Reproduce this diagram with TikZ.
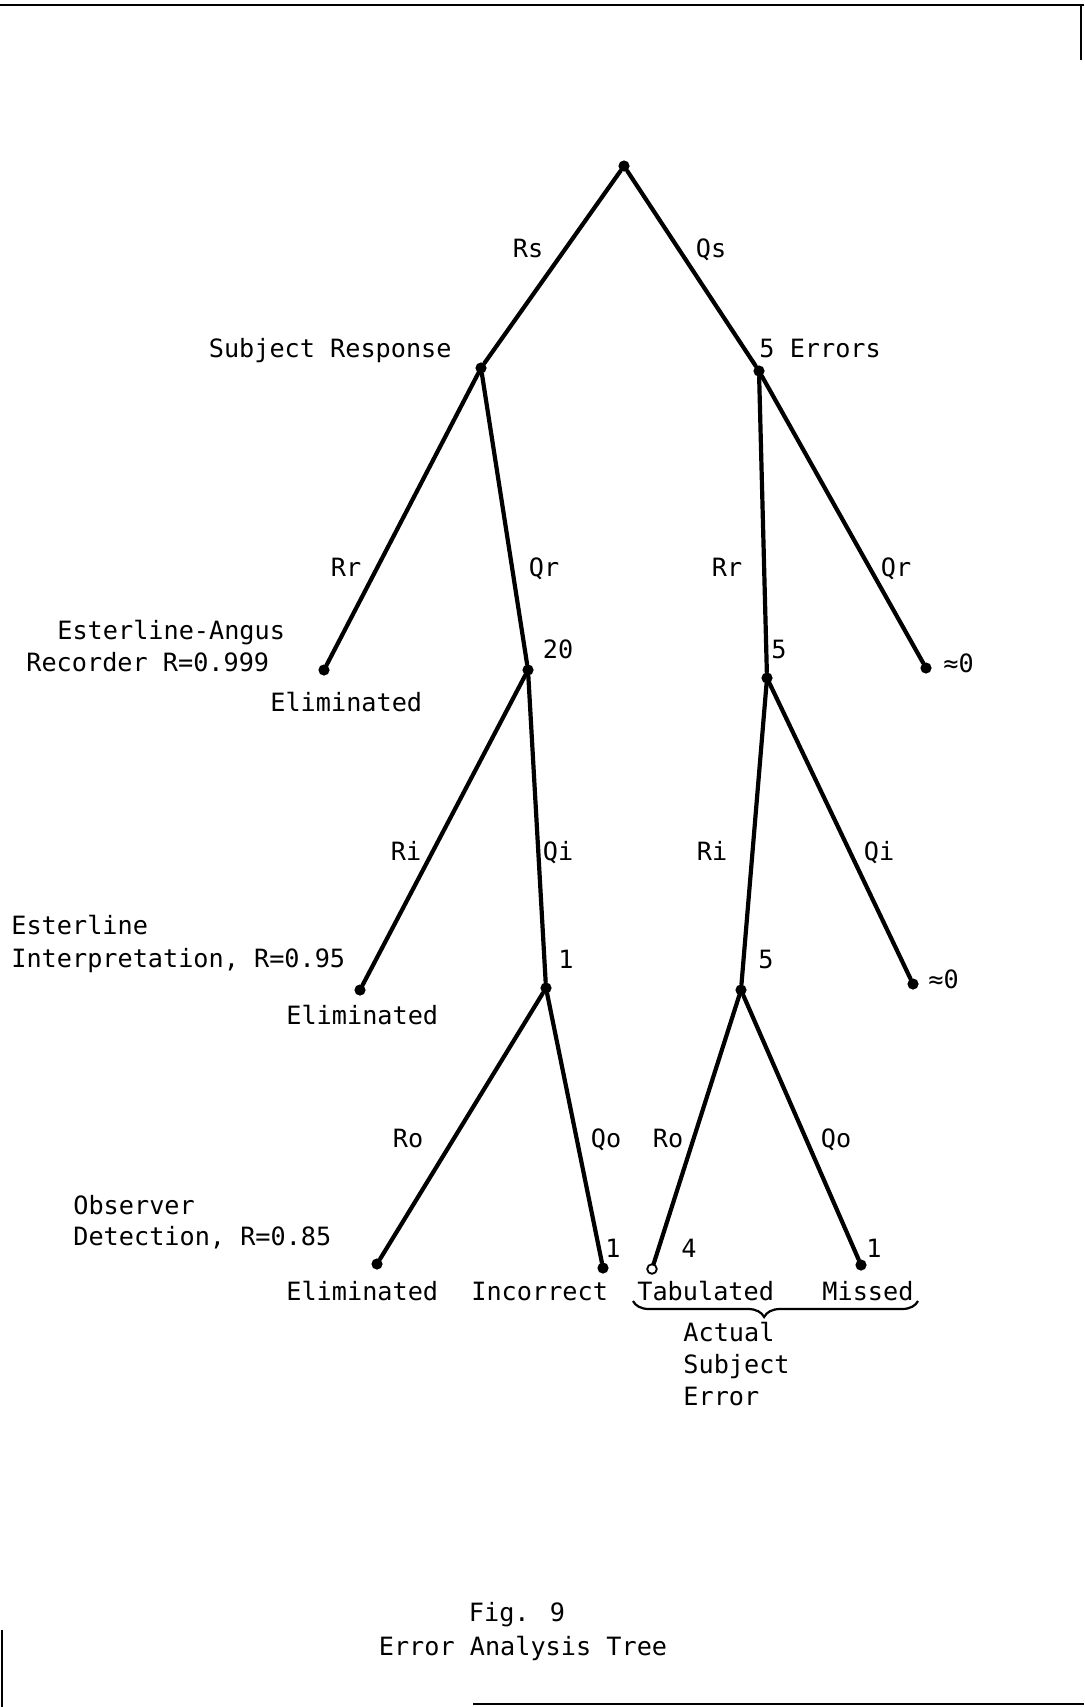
\documentclass[tikz,border=0pt]{standalone}
\usepackage{fontspec}
\setmainfont{DejaVu Sans Mono}
\usetikzlibrary{positioning,decorations.pathreplacing}

\begin{document}
\begin{tikzpicture}[x=0.5pt, y=-0.5pt,
  dot/.style={circle, fill=black, inner sep=0pt, minimum size=5.6pt},
  hollow/.style={circle, draw=black, fill=white, line width=0.9pt, inner sep=0pt, minimum size=4.8pt},
  branch/.style={line width=2.1pt, line cap=round},
  lbl/.style={anchor=base, inner sep=0pt, font=\fontsize{12.6}{16}\selectfont},
  txt/.style={anchor=base west, inner sep=0pt, font=\fontsize{12.6}{16}\selectfont},
  frame/.style={line width=1.4pt}
]
  \useasboundingbox (0,0) rectangle (1084,1707);

  \draw[frame] (0,5) -- (1084,5);
  \draw[frame] (1081,5) -- (1081,60);
  \draw[frame] (473,1704) -- (1084,1704);
  \draw[line width=0.6pt] (2,1630) -- (2,1707);

  \node[dot] (root) at (624,166) {};
  \node[dot] (subj) at (481,368) {};
  \node[dot] (err) at (759,371) {};
  \node[dot] (elimA) at (324,670) {};
  \node[dot] (n20) at (528,670) {};
  \node[dot] (n5a) at (767,678) {};
  \node[dot] (zeroA) at (926,668) {};
  \node[dot] (elimB) at (360,990) {};
  \node[dot] (n1) at (546,988) {};
  \node[dot] (n5b) at (741,990) {};
  \node[dot] (zeroB) at (913,984) {};
  \node[dot] (elimC) at (377,1264) {};
  \node[dot] (incor) at (603,1268) {};
  \node[hollow] (tab) at (652,1269) {};
  \node[dot] (miss) at (861,1265) {};

  \draw[branch] (root) -- (subj);
  \draw[branch] (root) -- (err);
  \draw[branch] (subj) -- (elimA);
  \draw[branch] (subj) -- (n20);
  \draw[branch] (err) -- (n5a);
  \draw[branch] (err) -- (zeroA);
  \draw[branch] (n20) -- (elimB);
  \draw[branch] (n20) -- (n1);
  \draw[branch] (n5a) -- (n5b);
  \draw[branch] (n5a) -- (zeroB);
  \draw[branch] (n1) -- (elimC);
  \draw[branch] (n1) -- (incor);
  \draw[branch] (n5b) -- (tab);
  \draw[branch] (n5b) -- (miss);

  \node[lbl] (rs) at (528,257) {Rs};
  \node[lbl] (qs) at (711,257) {Qs};
  \node[txt, anchor=base east] (subjtxt) at (452,357) {Subject Response};
  \node[txt] (errtxt) at (759,357) {5 Errors};

  \node[lbl] (rrA) at (346,576) {Rr};
  \node[lbl] (qrA) at (544,576) {Qr};
  \node[lbl] (rrB) at (727,576) {Rr};
  \node[lbl] (qrB) at (896,576) {Qr};
  \node[txt] (recA) at (57,639) {Esterline-Angus};
  \node[txt] (recB) at (26,671) {Recorder R=0.999};
  \node[txt] (elimAtxt) at (270,711) {Eliminated};
  \node[lbl] (c20) at (558,658) {20};
  \node[lbl] (c5a) at (779,658) {5};
  \node[txt] (zeroAtxt) at (943,672) {≈0};

  \node[lbl] (riA) at (406,860) {Ri};
  \node[lbl] (qiA) at (558,860) {Qi};
  \node[lbl] (riB) at (712,860) {Ri};
  \node[lbl] (qiB) at (879,860) {Qi};
  \node[txt] (intA) at (11,934) {Esterline};
  \node[txt] (intB) at (11,967) {Interpretation, R=0.95};
  \node[txt] (elimBtxt) at (286,1024) {Eliminated};
  \node[lbl] (c1) at (566,968) {1};
  \node[lbl] (c5b) at (766,968) {5};
  \node[txt] (zeroBtxt) at (928,988) {≈0};

  \node[lbl] (roA) at (408,1147) {Ro};
  \node[lbl] (qoA) at (606,1147) {Qo};
  \node[lbl] (roB) at (668,1147) {Ro};
  \node[lbl] (qoB) at (836,1147) {Qo};
  \node[txt] (obsA) at (73,1214) {Observer};
  \node[txt] (obsB) at (73,1245) {Detection, R=0.85};
  \node[lbl] (c1i) at (613,1257) {1};
  \node[lbl] (c4) at (689,1257) {4};
  \node[lbl] (c1m) at (874,1257) {1};
  \node[txt] (elimCtxt) at (286,1300) {Eliminated};
  \node[txt] (incortxt) at (471,1300) {Incorrect};
  \node[txt] (tabtxt) at (637,1300) {Tabulated};
  \node[txt] (misstxt) at (822,1300) {Missed};

  \coordinate (braceR) at (918,1301);
  \coordinate (braceL) at (633,1301);
  \draw[line width=1.1pt, decorate, decoration={brace, amplitude=8pt, aspect=0.54}] (braceR) -- (braceL);
  \node[txt] (actA) at (683,1341) {Actual};
  \node[txt] (actB) at (683,1373) {Subject};
  \node[txt] (actC) at (683,1405) {Error};

  \node[lbl] (fig) at (517,1621) {Fig. 9};
  \node[lbl] (title) at (523,1655) {Error Analysis Tree};
\end{tikzpicture}
\end{document}
